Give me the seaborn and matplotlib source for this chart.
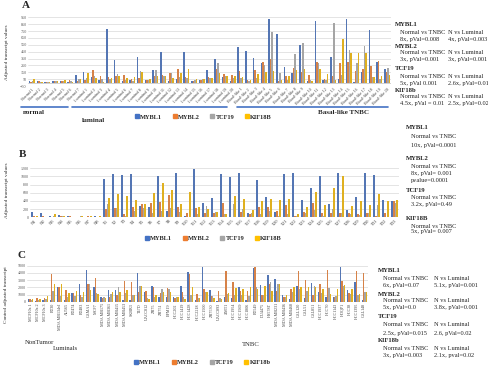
import numpy as np
import pandas as pd
import matplotlib
matplotlib.use('Agg')
import matplotlib.pyplot as plt
import seaborn as sns
from matplotlib.lines import Line2D

# ---------------------------------------------------------------
# datos
# ---------------------------------------------------------------
genes_ab = ['MYBL1', 'MYBL2', 'TCF19', 'KIF18B']
genes_c = ['MYBL1', 'MYBL2', 'TCF19', 'KIF18b']
colores = ['#4472C4', '#ED7D31', '#A5A5A5', '#FFC000']

# Panel A: tumores (normal / luminal / basal-like)
muestras_a = ([f'Normal {i}' for i in range(1, 8)] +
              [f'Luminal {i}' for i in range(1, 21)] +
              [f'Basal-like {i}' for i in range(1, 21)])
a_mybl1 = [30, 30, 15, 20, 20, 10, 110, 150, 80, 40, 780, 330, 20, 40, 370, 40,
           180, 440, 20, 50, 450, 25, 40, 190, 340, 80, 20,
           520, 460, 363, 280, 921, 703, 232, 144, 552, 20, 897, 40, 377, 50,
           921, 10, 160, 766, 295, 198]
a_mybl2 = [15, 20, 15, 25, 25, 40, 25, 40, 185, 100, 80, 90, 115, 55, 65, 40,
           90, 110, 140, 195, 80, 30, 40, 80, 200, 120, 110,
           170, 40, 183, 295, 339, 30, 90, 208, 159, 110, 300, 50, 100, 290,
           300, 170, 200, 246, 319, 150]
a_tcf19 = [20, 15, 15, 25, 30, 30, 45, 70, 95, 55, 50, 130, 40, 30, 165, 40,
           180, 100, 140, 80, 60, 40, 50, 60, 290, 90, 70,
           70, 30, 60, 256, 732, 144, 40, 412, 570, 40, 290, 40, 863, 110,
           475, 280, 530, 80, 50, 210]
a_kif18b = [45, 15, 10, 30, 35, 15, 45, 145, 60, 15, 65, 90, 65, 75, 150, 55,
            100, 100, 60, 140, 200, 45, 50, 60, 135, 100, 100,
            80, 40, 125, 154, 164, 40, 96, 190, 200, 30, 203, 130, 40, 640,
            427, 430, 430, 80, 100, 110]

# Panel B: normales vs tumores
muestras_b = [f'N{i}' for i in range(1, 9)] + [f'T{i}' for i in range(1, 34)]
b_mybl1 = [120, 100, 20, 60, 40, 10, 10, 20,
           940, 1060, 1040, 1060, 280, 250, 1010, 150, 1090, 20, 1190, 360, 470,
           1060, 990, 1080, 100, 920, 500, 130, 1050, 1090, 420, 710, 1000, 330,
           1090, 190, 500, 1090, 1030, 420, 390]
b_mybl2 = [20, 20, 10, 20, 20, 10, 20, 10,
           200, 230, 80, 250, 320, 350, 380, 550, 250, 100, 230, 100, 110,
           360, 10, 130, 90, 260, 260, 150, 300, 20, 140, 350, 100, 100,
           100, 110, 80, 100, 30, 100, 400]
b_tcf19 = [10, 10, 30, 20, 10, 20, 10, 10,
           330, 220, 20, 160, 220, 100, 150, 220, 120, 10, 80, 280, 120,
           80, 320, 200, 100, 80, 150, 40, 80, 30, 110, 180, 40, 200,
           100, 80, 60, 100, 300, 10, 340]
b_kif18b = [20, 10, 90, 20, 10, 20, 20, 20,
            480, 560, 510, 420, 330, 590, 830, 670, 320, 620, 250, 200, 120,
            80, 510, 450, 180, 410, 450, 420, 450, 80, 250, 620, 290, 710,
            1010, 270, 400, 300, 580, 390, 420]

# Panel C: lineas celulares
muestras_c = ['MCF10a 1', 'MCF10a 2', 'MCF10a 3', 'BT30', 'MDA MB134vI', 'AU565',
              'BT474', 'BT483', 'CAMA1', 'MCF7', 'MDA MB175', 'MDA MB361',
              'MDA MB415', 'MDA MB453', 'SKBR3', 'T47D', 'UACC812', 'ZR75',
              'ZR751', 'EFM19', 'HCC202', 'HCC1419', 'HCC1428', 'HCC2218',
              'HCC1500', 'ZR7530', 'UACC893', 'JIMT1', 'HCC1954', 'HCC1569',
              'HCC1806', 'BT549', 'DU4475', 'HS578T', 'MDA MB231', 'MDA MB436',
              'MDA MB468', 'CAL120', 'CAL51', 'CAL851', 'HCC1937', 'HCC70',
              'HCC1143', 'HDQP1', 'HCC38', 'HCC1395', 'CAL148']
c_mybl1 = [400, 150, 200, 200, 2100, 200, 1200, 2400, 4400, 2000, 700, 1600,
           1600, 300, 300, 4000, 1400, 2200, 700, 700, 600, 2200, 4100, 200,
           4800, 1600, 100, 600, 500, 2000, 200, 4700, 2300, 3700, 3200, 900,
           400, 2200, 500, 2600, 1300, 600, 700, 4800, 1600, 2800, 300]
c_mybl2 = [350, 450, 450, 3800, 2000, 1650, 1200, 1000, 2400, 3300, 500, 700,
           900, 2900, 2700, 1400, 1500, 2100, 1200, 1900, 500, 1400, 3800, 1100,
           1800, 800, 1500, 4300, 2700, 1500, 1500, 4800, 1000, 2500, 1500, 700,
           1800, 4300, 3000, 1000, 2400, 4400, 700, 2900, 1200, 4300, 4000]
c_tcf19 = [300, 200, 400, 1500, 800, 600, 800, 700, 2400, 1200, 600, 1100,
           2000, 1200, 1000, 2200, 500, 700, 1700, 1700, 700, 700, 1000, 500,
           1400, 800, 500, 1100, 1000, 1000, 800, 2100, 1000, 2800, 2500, 700,
           1300, 1800, 1500, 2200, 1200, 1900, 800, 2200, 1100, 1000, 1300]
c_kif18b = [400, 420, 800, 2500, 2400, 1200, 1500, 1400, 1600, 1100, 500, 1300,
            1300, 1600, 1000, 2200, 400, 1000, 1300, 1300, 700, 400, 2100, 500,
            1400, 500, 400, 1200, 1900, 1800, 2000, 1700, 2200, 1500, 2400, 1000,
            2000, 2000, 2000, 2000, 1800, 1100, 1700, 2300, 1800, 1100, 1300]


def a_largo(muestras, series, genes):
    filas = []
    for gen, valores in zip(genes, series):
        for m, v in zip(muestras, valores):
            filas.append({'muestra': m, 'gen': gen, 'valor': v})
    return pd.DataFrame(filas)


df_a = a_largo(muestras_a, [a_mybl1, a_mybl2, a_tcf19, a_kif18b], genes_ab)
df_b = a_largo(muestras_b, [b_mybl1, b_mybl2, b_tcf19, b_kif18b], genes_ab)
df_c = a_largo(muestras_c, [c_mybl1, c_mybl2, c_tcf19, c_kif18b], genes_c)

# ---------------------------------------------------------------
# figura
# ---------------------------------------------------------------
sns.set_style('white')
plt.rcParams['font.family'] = ['Liberation Serif', 'DejaVu Serif']

W, H = 488, 377
fig = plt.figure(figsize=(W / 100, H / 100), dpi=100)


def px(x, y):
    return x / W, 1 - y / H


def caja(x0, x1, ytop, ybot):
    return [x0 / W, 1 - ybot / H, (x1 - x0) / W, (ybot - ytop) / H]


def dibujar(ax, df, genes, ylim, yticks, rot, fs_tick):
    sns.barplot(data=df, x='muestra', y='valor', hue='gen', hue_order=genes,
                palette=colores, width=0.78, ax=ax, legend=False,
                errorbar=None, linewidth=0)
    ax.set_ylim(*ylim)
    ax.set_yticks(yticks)
    ax.grid(axis='y', color='#D9D9D9', linewidth=0.5)
    ax.set_axisbelow(True)
    for s in ['top', 'right', 'left', 'bottom']:
        ax.spines[s].set_visible(False)
    ax.axhline(0, color='#BFBFBF', linewidth=0.5, zorder=0)
    ax.tick_params(axis='both', length=0, pad=1)
    ax.tick_params(axis='y', labelsize=3, colors='#595959')
    ha = 'right' if rot == 45 else 'center'
    ax.set_xticks(range(len(df['muestra'].unique())))
    ax.set_xticklabels(df['muestra'].unique(), rotation=rot, ha=ha,
                       rotation_mode='anchor' if rot == 45 else 'default',
                       fontsize=fs_tick, color='#404040')
    ax.set_xlabel('')
    ax.set_ylabel('')


def leyenda(ax, genes, x, y):
    handles = [Line2D([], [], marker='s', linestyle='', color=c, markersize=2.8)
               for c in colores]
    fig.legend(handles, genes, loc='center', bbox_to_anchor=px(x, y), ncol=4,
               frameon=False, prop={'size': 4.6, 'weight': 'bold'},
               handletextpad=0.1, columnspacing=1.6, handlelength=0.8)


def notas(x0, x1, lineas):
    # lineas: (y, texto_izq, texto_der, negrita)
    for y, t1, t2, neg in lineas:
        if neg:
            fig.text(*px(x0, y), t1, fontsize=4.8, weight='bold', va='center')
        else:
            fig.text(*px(x0 + 5, y), t1, fontsize=4.6, va='center')
            if t2:
                fig.text(*px(x1, y), t2, fontsize=4.6, va='center')


# ---------------- A ----------------
ax_a = fig.add_axes(caja(28, 391, 17.3, 86))
dibujar(ax_a, df_a, genes_ab, (-50, 950), range(-50, 951, 100), 45, 3)
fig.text(*px(22, 5), 'A', fontsize=8, weight='bold', va='center')
fig.text(*px(7, 52), 'Adjusted transcript values', fontsize=3.8,
         rotation=90, va='center', ha='center')
for x0, x1 in [(21, 68), (72, 227), (237, 388)]:
    fig.add_artist(Line2D([x0 / W, x1 / W], [1 - 107 / H] * 2,
                          color='#4472C4', linewidth=1.2))
fig.text(*px(23, 112), 'normal', fontsize=5, weight='bold', va='center')
fig.text(*px(82, 121), 'luminal', fontsize=5, weight='bold', va='center')
fig.text(*px(343, 112), 'Basal-like TNBC', fontsize=5, weight='bold',
         va='center', ha='center')
leyenda(ax_a, genes_ab, 203, 117)
notas(395, 448, [
    (25, 'MYBL1', None, True),
    (32, 'Normal vs TNBC', 'N vs Luminal', False),
    (39, '8x, pVal=0.008', '4x, pVal=0.003', False),
    (47, 'MYBL2', None, True),
    (53, 'Normal vs TNBC', 'N vs Luminal', False),
    (60, '3x, pVal=0.001', '3x, pVal=0.001', False),
    (68, 'TCF19', None, True),
    (76, 'Normal vs TNBC', 'N vs Luminal', False),
    (83, '5x, pVal 0.001', '2.6x, pVal=0.01', False),
    (90, 'KIF18b', None, True),
    (97, 'Normal vs TNBC', 'N vs Luminal', False),
    (104, '4.5x, pVal = 0.01', '2.5x, pVal=0.02', False),
])

# ---------------- B ----------------
ax_b = fig.add_axes(caja(30, 399, 168.3, 217.3))
dibujar(ax_b, df_b, genes_ab, (0, 1200), range(0, 1201, 200), 45, 3.4)
fig.text(*px(19, 154), 'B', fontsize=8, weight='bold', va='center')
fig.text(*px(7, 190), 'Adjusted transcript values', fontsize=3.8,
         rotation=90, va='center', ha='center')
leyenda(ax_b, genes_ab, 213, 238)
notas(406, 0, [
    (128, 'MYBL1', None, True),
    (136, 'Normal vs TNBC', None, False),
    (146, '10x, pVal=0.0001', None, False),
    (159, 'MYBL2', None, True),
    (166, 'Normal vs TNBC', None, False),
    (173, '8x, pVal= 0.001', None, False),
    (181, 'pvalue=0.0001', None, False),
    (191, 'TCF19', None, True),
    (198, 'Normal vs TNBC', None, False),
    (205, '3.2x, pVal=0.49', None, False),
    (218, 'KIF18B', None, True),
    (226, 'Normal vs TNBC', None, False),
    (232, '5x, pVal= 0.007', None, False),
])

# ---------------- C ----------------
ax_c = fig.add_axes(caja(27, 368, 265.7, 301.7))
dibujar(ax_c, df_c, genes_c, (0, 5000), range(0, 5001, 1000), 90, 3)
for lab in ax_c.get_xticklabels():
    lab.set_va('top')
fig.text(*px(17, 256), 'C', fontsize=8, weight='bold', va='center')
fig.text(*px(6, 295), 'Control adjusted transcript', fontsize=3.8,
         rotation=90, va='center', ha='center')
fig.text(*px(25, 342), 'NonTumor', fontsize=4.8, va='center')
fig.text(*px(53, 349), 'Luminals', fontsize=4.8, va='center')
fig.text(*px(242, 344), 'TNBC', fontsize=4.8, va='center')
leyenda(ax_c, genes_c, 202, 362)
notas(378, 434, [
    (271, 'MYBL1', None, True),
    (279, 'Normal vs TNBC', 'N vs Luminal', False),
    (286, '6x, pVal=0.07', '5.1x, pVal=0.001', False),
    (294, 'MYBL2', None, True),
    (301, 'Normal vs TNBC', 'N vs Luminal', False),
    (308, '5x, pVal=0.0', '3.8x, pVal=0.001', False),
    (316, 'TCF19', None, True),
    (325, 'Normal vs TNBC', 'N vs Luminal', False),
    (333, '2.5x, pVal=0.015', '2.6, pVal=0.02', False),
    (340, 'KIF18b', None, True),
    (348, 'Normal vs TNBC', 'N vs Luminal', False),
    (355, '3x, pVal=0.003', '2.1x, pval=0.02', False),
])

fig.savefig('out.png', dpi=100)
